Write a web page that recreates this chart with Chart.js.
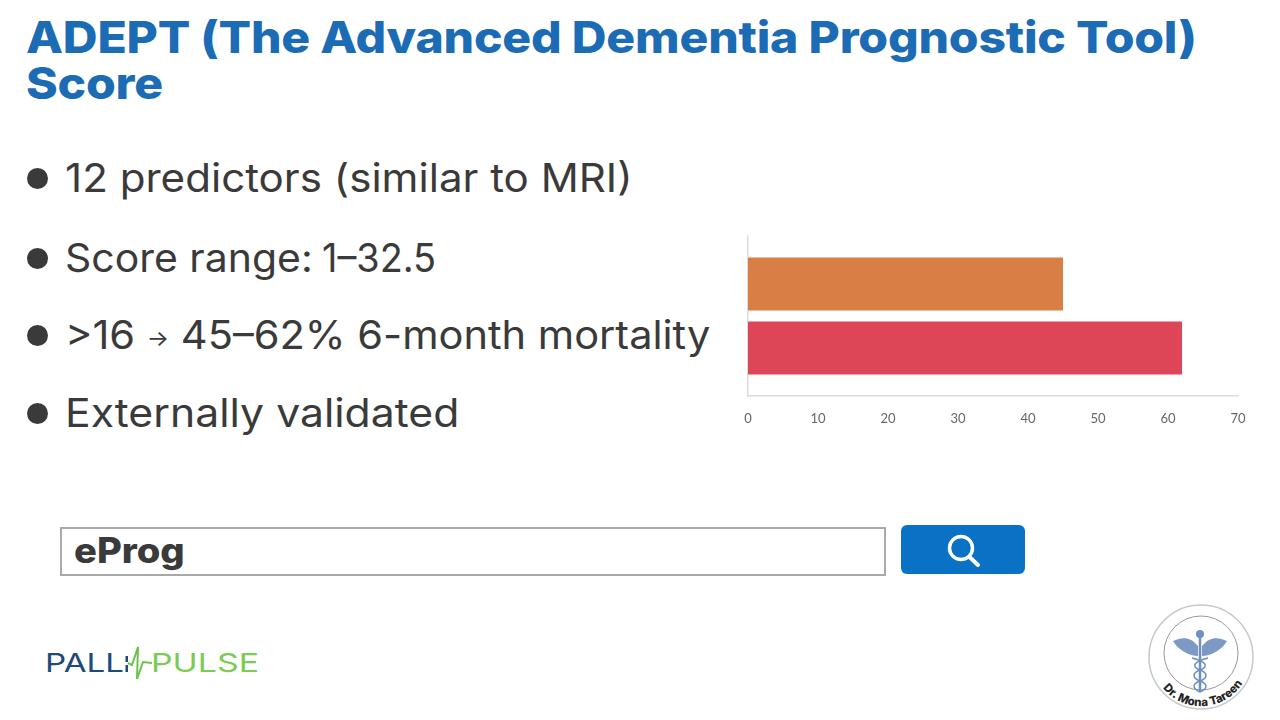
<!DOCTYPE html>
<html>
<head>
<meta charset="utf-8">
<script src="https://cdn.jsdelivr.net/npm/chart.js@4"></script>
<style>
html,body{margin:0;padding:0;background:#fff;width:1280px;height:720px;overflow:hidden}
.t{position:absolute;white-space:nowrap;font-family:Inter,sans-serif;transform-origin:0 50%}
.title{left:26px;color:#1b6bb5;font-weight:800;font-size:44px;line-height:46px;letter-spacing:-.2px}
.b{left:65px;color:#3a3a3a;font-size:39px;font-weight:400;line-height:46px}
.dot{position:absolute;left:27px;width:21px;height:21px;border-radius:50%;background:#3a3a3a}
#search{position:absolute;left:60px;top:527px;width:822px;height:45px;border:2px solid #a9a9a9;background:#fff}
#btn{position:absolute;left:901px;top:525px;width:124px;height:49px;border-radius:6px;background:#0a72c4}
#wrap{position:absolute;left:730px;top:225px;width:530px;height:200px}
</style>
</head>
<body>
<div class="t title" style="top:14px;transform:scaleX(1.094)">ADEPT (The Advanced Dementia Prognostic Tool)<br>Score</div>

<div class="dot" style="top:168px"></div><div class="t b" style="top:155px;transform:scaleX(1.08)">12 predictors (similar to MRI)</div>
<div class="dot" style="top:248px"></div><div class="t b" style="top:235px;transform:scaleX(1.05)">Score range:</div>
<div class="t b" style="top:235px;left:322px;transform:scaleX(.97)">1–32.5</div>
<div class="dot" style="top:325px"></div><div class="t b" style="top:312px;transform:scaleX(1.065)">&gt;16 <span style="font-size:22px;vertical-align:3px">→</span> 45–62% 6-month mortality</div>
<div class="dot" style="top:403px"></div><div class="t b" style="top:390px;transform:scaleX(1.095)">Externally validated</div>

<div id="wrap"><canvas id="c" width="530" height="200"></canvas></div>

<div id="search"></div>
<div class="t" style="left:74px;top:529px;font-size:35px;font-weight:800;color:#3a3a3a;line-height:42px;transform:scaleX(1.09)">eProg</div>
<div id="btn">
<svg width="124" height="49" style="display:block"><circle cx="60" cy="23" r="11.5" fill="none" stroke="#fff" stroke-width="3.5"/><line x1="68.5" y1="32" x2="77" y2="40" stroke="#fff" stroke-width="4" stroke-linecap="round"/></svg>
</div>

<svg style="position:absolute;left:30px;top:630px" width="240" height="60">
<text x="15" y="42" font-family="Inter,sans-serif" font-size="26" fill="#1c4a7c" textLength="79" lengthAdjust="spacingAndGlyphs">PALL</text>
<rect x="95.5" y="26" width="2.5" height="6" fill="#1c4a7c"/><rect x="95.5" y="35" width="2.5" height="7" fill="#1c4a7c"/>
<polyline points="98,33 102,35 108,17 107,49 113,32 122,33" fill="none" stroke="#6cc24a" stroke-width="2"/>
<text x="121" y="42" font-family="Inter,sans-serif" font-size="26" fill="#7ccb55" textLength="108" lengthAdjust="spacingAndGlyphs">PULSE</text>
</svg>

<svg style="position:absolute;left:1140px;top:600px" width="125" height="115">
<circle cx="61" cy="57" r="52" fill="#fff" stroke="#c8c8c8" stroke-width="1.5"/>
<circle cx="61" cy="53" r="37" fill="#fff" stroke="#9a9a9a" stroke-width="1"/>
<g fill="none" stroke="#6f8fc0">
<line x1="60" y1="36" x2="60" y2="92" stroke-width="2.5"/>
<path d="M52 58C68 62 68 67 60 70C52 73 52 78 60 81C68 84 68 88 60 92" stroke-width="1.5"/>
<path d="M68 58C52 62 52 67 60 70C68 73 68 78 60 81C52 84 52 88 60 92" stroke-width="1.5"/>
</g>
<circle cx="60" cy="34" r="4" fill="#6f8fc0"/>
<path d="M58 46C50 36 42 37 33 41C38 50 50 56 58 56Z" fill="#7d99c6"/>
<path d="M62 46C70 36 78 37 87 41C82 50 70 56 62 56Z" fill="#7d99c6"/>
<path id="arc" d="M 20 84 A 49 49 0 0 0 102 84" fill="none"/>
<text font-family="Inter,sans-serif" font-size="11.5" font-weight="800" fill="#222"><textPath href="#arc" startOffset="5">Dr. Mona Tareen</textPath></text>
</svg>

<script>
const categories = [""];
const seriesNames = ["Low end of range", "High end of range"];
const lowValues = [45];
const highValues = [62];
const seriesColors = ["#d77f45", "#dd4656"];
const axisTicks = [0, 10, 20, 30, 40, 50, 60, 70];

new Chart(document.getElementById("c"), {
  type: "bar",
  data: {
    labels: categories,
    datasets: [
      {label: seriesNames[0], data: lowValues, backgroundColor: seriesColors[0]},
      {label: seriesNames[1], data: highValues, backgroundColor: seriesColors[1]}
    ]
  },
  options: {
    indexAxis: "y",
    responsive: false,
    animation: false,
    layout: {padding: {left: 18, right: 22, top: 11, bottom: 0}},
    plugins: {legend: {display: false}, tooltip: {enabled: false}},
    datasets: {bar: {categoryPercentage: 0.8, barPercentage: 0.83}},
    scales: {
      x: {
        min: 0, max: 70,
        afterBuildTicks: s => { s.ticks = axisTicks.map(v => ({value: v})); },
        grid: {display: false},
        border: {display: true, color: "#dcdcdc", width: 1.5},
        ticks: {color: "#666", font: {family: "Lato", size: 13}, padding: 7, maxRotation: 0},
        afterFit: s => { s.height = 29; }
      },
      y: {
        grid: {display: false},
        border: {display: true, color: "#dcdcdc", width: 1.5},
        ticks: {display: false},
        afterFit: s => { s.width = 0; }
      }
    }
  }
});
</script>
</body>
</html>
